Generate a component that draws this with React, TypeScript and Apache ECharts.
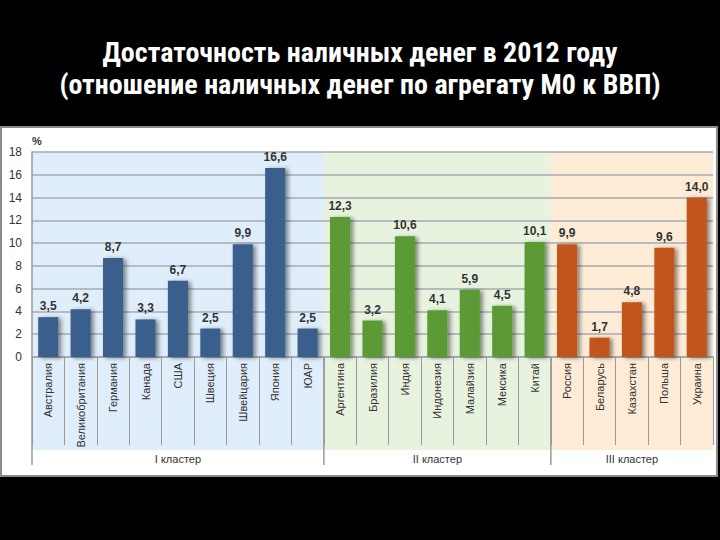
import React, { useEffect, useRef } from "react";
import * as echarts from "echarts";

const clusterNames = ["I кластер", "II кластер", "III кластер"];
const cluster1 = ["Австралия", "Великобритания", "Германия", "Канада", "США", "Швеция", "Швейцария", "Япония", "ЮАР"];
const values1 = [3.5, 4.2, 8.7, 3.3, 6.7, 2.5, 9.9, 16.6, 2.5];
const cluster2 = ["Аргентина", "Бразилия", "Индия", "Индонезия", "Малайзия", "Мексика", "Китай"];
const values2 = [12.3, 3.2, 10.6, 4.1, 5.9, 4.5, 10.1];
const cluster3 = ["Россия", "Беларусь", "Казахстан", "Польша", "Украина"];
const values3 = [9.9, 1.7, 4.8, 9.6, 14.0];

const barColors = ["#3a5f8c", "#5c9a36", "#c0561f"];
const bandColors = ["#dfeefa", "#e8f3df", "#fdebd6"];

const titleLines = ["Достаточность наличных денег в 2012 году", "(отношение наличных денег по агрегату М0 к ВВП)"];

export default function App() {
  const ref = useRef<HTMLDivElement>(null);
  useEffect(() => {
    if (!ref.current) return;
    const chart = echarts.init(ref.current, null, { renderer: "svg" });
    const groups = [cluster1, cluster2, cluster3];
    const vals = [values1, values2, values3];
    const categories: string[] = [];
    const data: any[] = [];
    groups.forEach((g, gi) => {
      g.forEach((c, i) => {
        categories.push(c);
        data.push({ value: vals[gi][i], itemStyle: { color: barColors[gi] } });
      });
    });
    const font = "'Liberation Sans', Arial, sans-serif";
    chart.setOption({
      animation: false,
      backgroundColor: "#000",
      title: {
        text: titleLines.join("\n"),
        left: "center",
        top: 31,
        textStyle: {
          color: "#fff",
          fontSize: 28,
          fontWeight: "bold",
          fontFamily: "'Liberation Sans Narrow', 'Roboto Condensed', 'Liberation Sans', sans-serif",
          lineHeight: 32,
        },
      },
      grid: { left: 32, right: 7, top: 152, bottom: 183 },
      xAxis: {
        type: "category",
        data: categories,
        axisLine: { show: true, lineStyle: { color: "#a0a6ad", width: 1.5 } },
        axisTick: { show: true, interval: 0, length: 88, lineStyle: { color: "#9a9a9a", width: 1 } },
        axisLabel: { interval: 0, rotate: 90, margin: 6, fontSize: 11, color: "#333", fontFamily: font },
      },
      yAxis: {
        type: "value",
        min: 0,
        max: 18,
        interval: 2,
        name: "%",
        nameLocation: "end",
        nameGap: 6,
        nameTextStyle: { align: "left", color: "#333", fontSize: 11, fontWeight: "bold", fontFamily: font },
        axisLine: { show: true, lineStyle: { color: "#9a9a9a", width: 1.5 } },
        axisTick: { show: false },
        axisLabel: { fontSize: 12, color: "#333", margin: 10, fontFamily: font },
        splitLine: { lineStyle: { color: "#a5aab0", width: 1.5 } },
      },
      series: [
        {
          type: "bar",
          data,
          barCategoryGap: "38%",
          itemStyle: {
            shadowColor: "rgba(0,0,0,0.45)",
            shadowBlur: 4,
            shadowOffsetX: 3,
            shadowOffsetY: 1,
          },
          label: {
            show: true,
            position: "top",
            distance: 5,
            fontSize: 12,
            fontWeight: "bold",
            color: "#333",
            fontFamily: font,
            formatter: (p: any) => Number(p.value).toFixed(1).replace(".", ","),
          },
        },
      ],
    });

    // decorations computed from the axes
    const px = (i: number) => chart.convertToPixel({ xAxisIndex: 0 }, i) as number;
    const half = (px(1) - px(0)) / 2;
    const yTop = chart.convertToPixel({ yAxisIndex: 0 }, 18) as number;
    const y0 = chart.convertToPixel({ yAxisIndex: 0 }, 0) as number;
    const bandBottom = y0 + 93;
    const divBottom = y0 + 108;
    const graphics: any[] = [
      {
        type: "rect",
        z: -30,
        shape: { x: 1, y: 127, width: 716, height: 349 },
        style: { fill: "#fff", stroke: "#8a8a8a", lineWidth: 2 },
      },
    ];
    let start = 0;
    groups.forEach((g, gi) => {
      const x1 = px(start) - half;
      const x2 = px(start + g.length - 1) + half;
      graphics.push({
        type: "rect",
        z: -20,
        shape: { x: x1, y: yTop, width: x2 - x1, height: bandBottom - yTop },
        style: { fill: bandColors[gi] },
      });
      graphics.push({
        type: "line",
        z: 5,
        shape: { x1: x1, y1: y0, x2: x1, y2: divBottom },
        style: { stroke: "#9a9a9a", lineWidth: 1.5 },
      });
      graphics.push({
        type: "text",
        z: 5,
        x: (x1 + x2) / 2,
        y: y0 + 102,
        style: {
          text: clusterNames[gi],
          fill: "#333",
          fontSize: 11,
          fontFamily: font,
          align: "center",
          verticalAlign: "middle",
        },
      });
      start += g.length;
    });
    chart.setOption({ graphic: graphics });
    return () => chart.dispose();
  }, []);
  return <div ref={ref} style={{ width: 720, height: 540, position: "absolute", left: 0, top: 0 }} />;
}
